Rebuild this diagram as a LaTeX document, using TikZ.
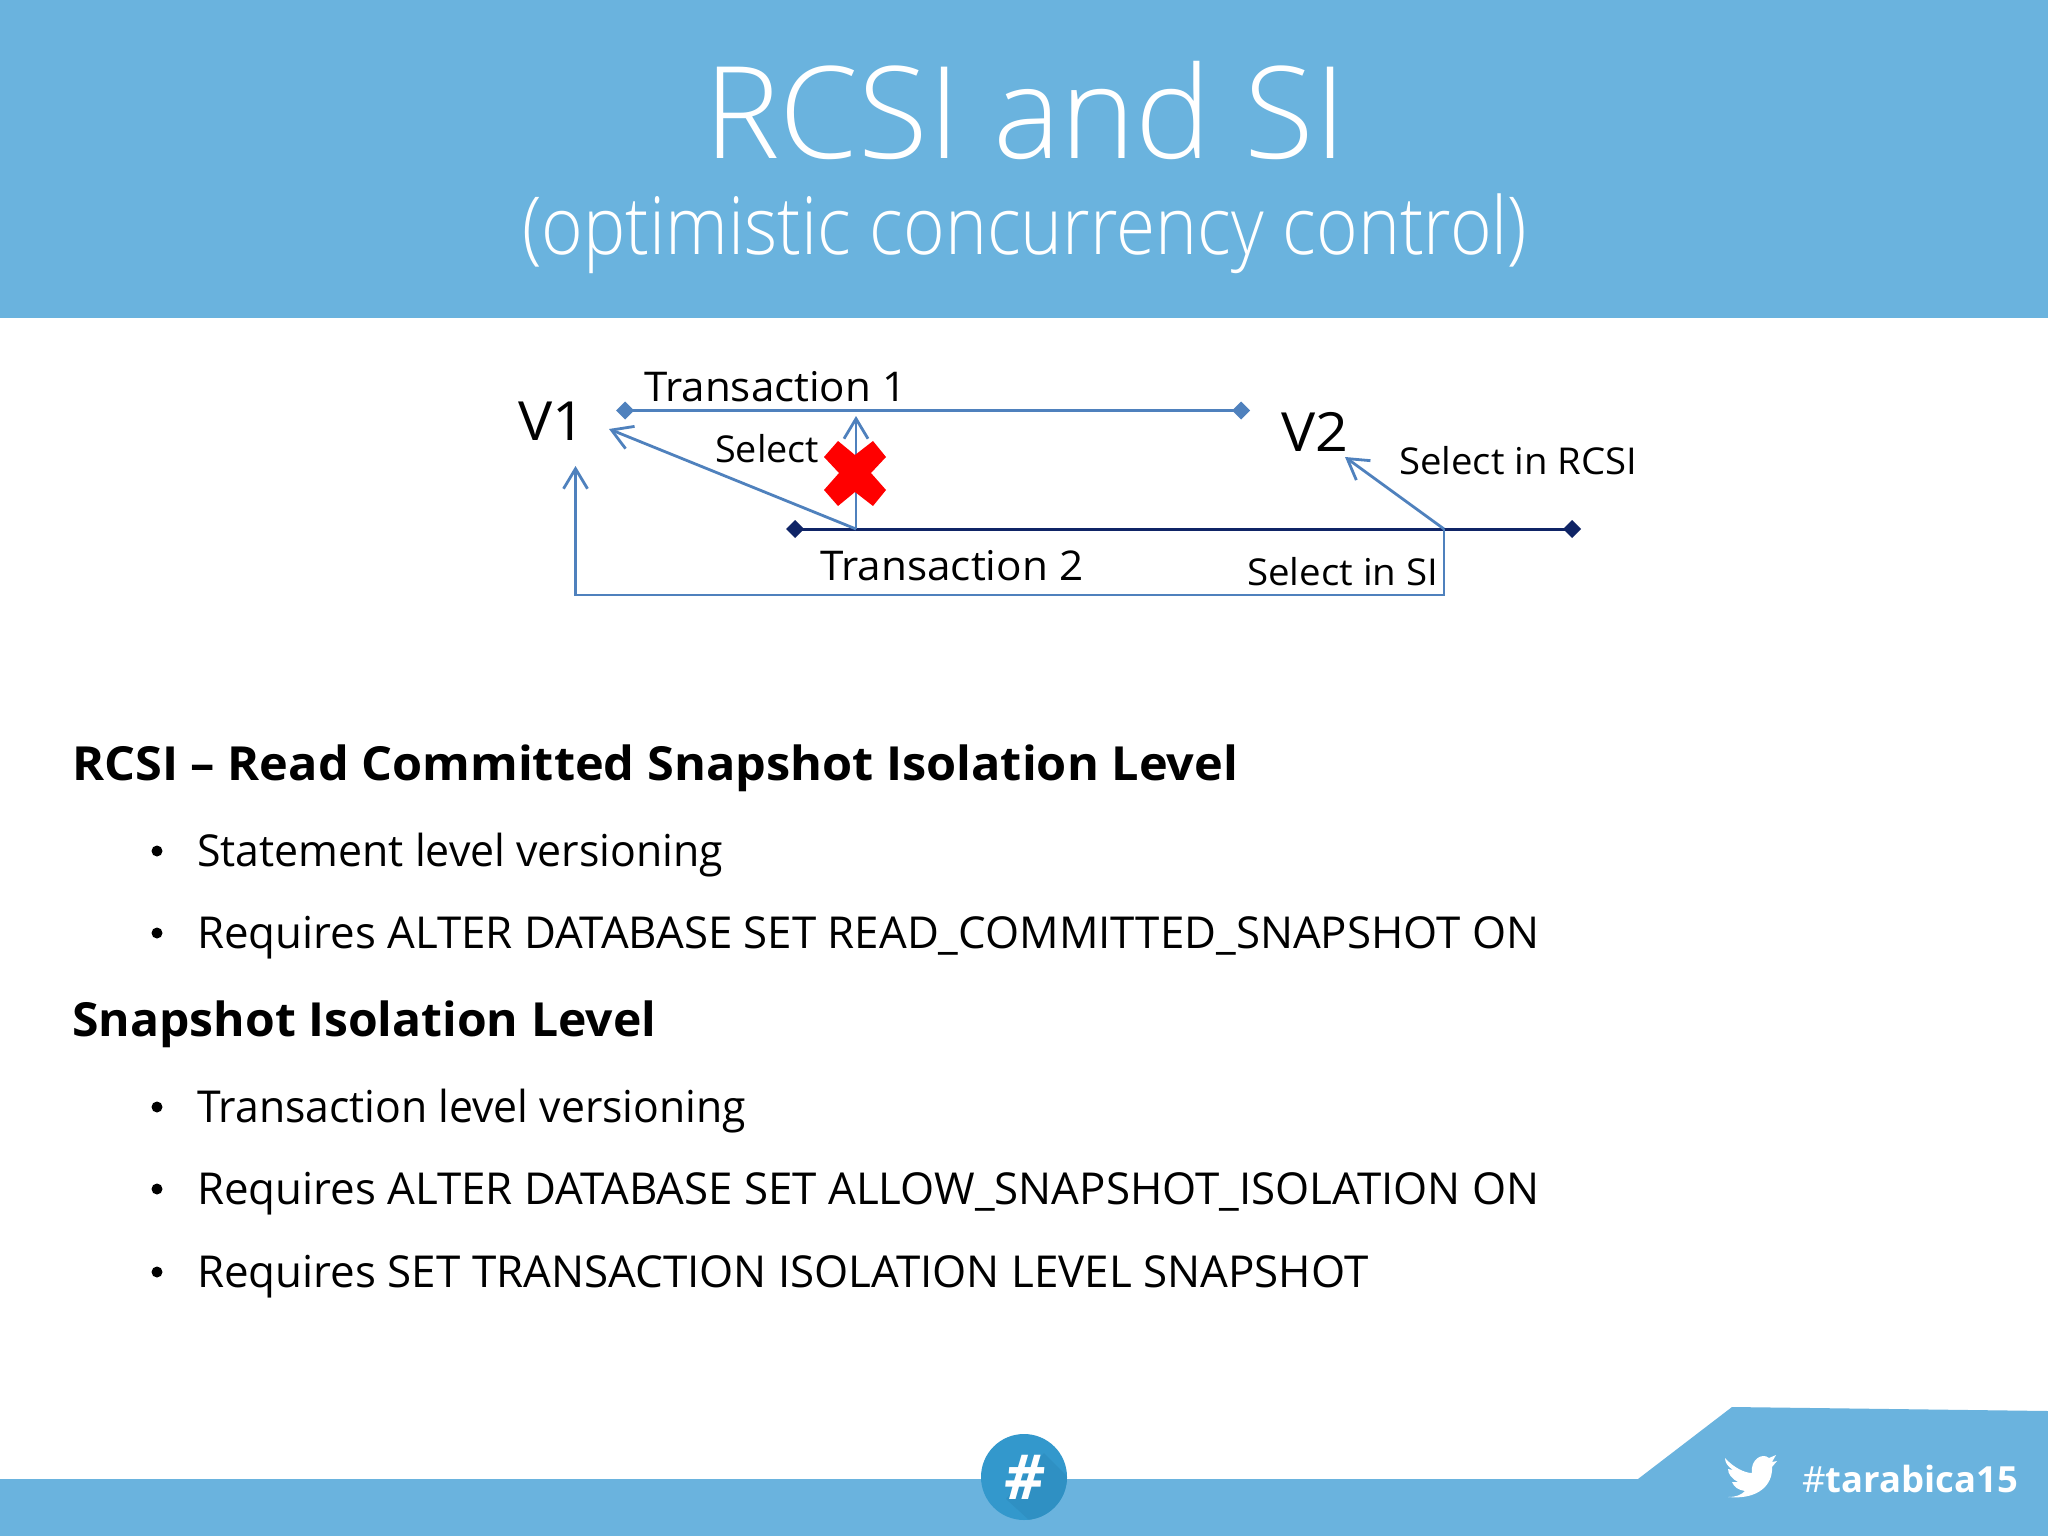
\documentclass[tikz,border=0pt]{standalone}
\usepackage{fontspec}
\usetikzlibrary{arrows.meta,shapes.geometric}
\setmainfont{Open Sans}
\newfontfamily\lightfont{Open Sans Light}
\definecolor{barblue}{HTML}{6AB3DE}
\definecolor{coinblue}{HTML}{3398CC}
\definecolor{coinshade}{HTML}{2F90C3}
\definecolor{lineblue}{HTML}{4F81BD}
\definecolor{navyline}{HTML}{0F2466}
\newcommand{\fitw}[2]{\resizebox{#1pt}{\height}{#2}}
\newcommand{\fs}[1]{\fontsize{#1pt}{#1pt}\selectfont}
\tikzset{
 txt/.style={inner sep=0pt,anchor=base west,text=black},
 tiptop/.style={-{Straight Barb[length=20pt,width=24pt,line width=2.8pt]}},
 conn/.style={draw=lineblue,line width=2.8pt},
 t1dia/.style={diamond,fill=lineblue,minimum width=18pt,minimum height=18pt,inner sep=0pt,outer sep=0pt},
 t2dia/.style={diamond,fill=navyline,minimum width=18pt,minimum height=18pt,inner sep=0pt,outer sep=0pt},
 bullet/.style={circle,fill=black,minimum size=11pt,inner sep=0pt}
}
\begin{document}
\begin{tikzpicture}[x=1pt,y=-1pt]
\useasboundingbox (0,0) rectangle (2048,1536);
\fill[white] (0,0) rectangle (2048,1536);
\fill[barblue] (0,0) rectangle (2048,318);
\fill[barblue] (0,1479) -- (1638,1479) -- (1732,1407) -- (2048,1411) -- (2048,1536) -- (0,1536) -- cycle;
% titles
\node[txt,text=white] (title) at (704,158) {\fitw{642}{\lightfont\fs{128}RCSI and SI}};
\node[txt,text=white] (subtitle) at (522,254) {\fitw{1005}{\lightfont\fs{80}(optimistic concurrency control)}};
% diagram
\node[t1dia] (t1a) at (625,410.5) {};
\node[t1dia] (t1b) at (1241,410.5) {};
\node[t2dia] (t2a) at (795,529) {};
\node[t2dia] (t2b) at (1572,529) {};
\draw[lineblue,line width=2.8pt] (t1a.center) -- (t1b.center);
\draw[navyline,line width=3pt] (t2a.center) -- (t2b.center);
\coordinate (sel) at (856,529);
\coordinate (selup) at (856,416);
\coordinate (selv) at (609,429);
\coordinate (si) at (1444,529);
\coordinate (sicorner) at (1444,595);
\coordinate (v1low) at (575.5,595);
\coordinate (v1in) at (575.5,466);
\coordinate (v2in) at (1345,457);
\draw[conn,tiptop] (sel) -- (selup);
\draw[conn,tiptop] (sel) -- (selv);
\draw[conn,tiptop] (si) -- (v2in);
\draw[conn,tiptop,line join=miter] (si) -- (sicorner) -- (v1low) -- (v1in);
\fill[red] (824,457)--(838,441)--(855,455)--(873,441)--(886,457)--(871,473)--(886,490)--(873,506)--(855,492)--(838,506)--(824,490)--(839,473)--cycle;
\node[txt] (v1) at (518,440) {\fitw{67}{\fs{54}V1}};
\node[txt] (v2) at (1281,451) {\fitw{67}{\fs{54}V2}};
\node[txt] (tr1) at (644,401) {\fitw{262}{\fs{41}Transaction 1}};
\node[txt] (tr2) at (820,580) {\fitw{263}{\fs{41}Transaction 2}};
\node[txt] (lsel) at (715,462) {\fitw{104}{\fs{37}Select}};
\node[txt] (lrcsi) at (1399,474) {\fitw{238}{\fs{37}Select in RCSI}};
\node[txt] (lsi) at (1247,585) {\fitw{191}{\fs{37}Select in SI}};
% body
\node[txt] (h1) at (72,780) {\fitw{1166}{\fs{47}\bfseries RCSI – Read Committed Snapshot Isolation Level}};
\node[txt] (h2) at (72,1036) {\fitw{584}{\fs{47}\bfseries Snapshot Isolation Level}};
\node[bullet] (b1) at (157,851) {};
\node[bullet] (b2) at (157,933) {};
\node[bullet] (b3) at (157,1107) {};
\node[bullet] (b4) at (157,1189) {};
\node[bullet] (b5) at (157,1272) {};
\node[txt] (l1) at (197,866) {\fitw{526}{\fs{44}Statement level versioning}};
\node[txt] (l2) at (197,948) {\fitw{1342}{\fs{44}Requires ALTER DATABASE SET READ\_COMMITTED\_SNAPSHOT ON}};
\node[txt] (l3) at (197,1122) {\fitw{549}{\fs{44}Transaction level versioning}};
\node[txt] (l4) at (197,1204) {\fitw{1342}{\fs{44}Requires ALTER DATABASE SET ALLOW\_SNAPSHOT\_ISOLATION ON}};
\node[txt] (l5) at (197,1287) {\fitw{1171}{\fs{44}Requires SET TRANSACTION ISOLATION LEVEL SNAPSHOT}};
% footer
\fill[coinblue] (1024,1477) circle (43);
\begin{scope}
\clip (1024,1477) circle (43);
\fill[coinshade] (1044,1453) -- (1090,1499) -- (1050,1539) -- (1006,1499) -- cycle;
\end{scope}
\node[inner sep=0pt,text=white] (hash) at (1024.5,1477) {\fs{62}\bfseries\itshape \#};
\fill[white] (1725,1458) .. controls (1734,1468) and (1745,1473) .. (1752,1473) .. controls (1750,1460) and (1762,1452) .. (1769,1458) -- (1776,1455) -- (1772,1462) -- (1777,1461) -- (1772,1467) .. controls (1773,1485) and (1758,1500) .. (1728,1497) .. controls (1736,1497) and (1741,1495) .. (1745,1491) .. controls (1738,1490) and (1734,1487) .. (1732,1482) -- (1738,1482) .. controls (1732,1479) and (1728,1474) .. (1728,1469) -- (1733,1470) .. controls (1727,1466) and (1725,1462) .. (1725,1458) -- cycle;
\node[txt,text=white] (tag) at (1802,1492) {\fitw{216}{\fs{36}{\mdseries\#}\bfseries tarabica15}};
\end{tikzpicture}
\end{document}
